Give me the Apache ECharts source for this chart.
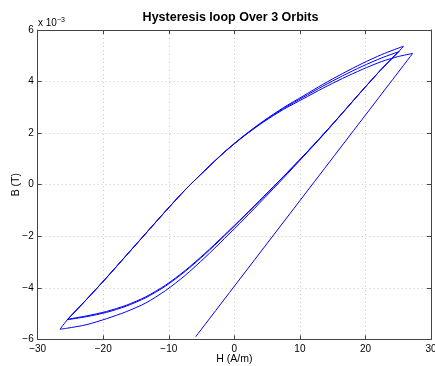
<!DOCTYPE html>
<html>
<head>
<meta charset="utf-8">
<script src="https://cdn.jsdelivr.net/npm/echarts@6/dist/echarts.min.js"></script>
<style>html,body{margin:0;padding:0;background:#fff;}#c{width:435px;height:366px;}</style>
</head>
<body>
<div id="c"></div>
<script>
// B values in units of 1e-3 T
var initH = [-5.9, 27.2];
var initB = [-5.9, 5.09];
var desc1H = [27.2,25,22.5,19.5,16.5,13.5,10.5,7.5,4.5,1.5,-1.5,-4.5,-7.5,-10.5,-13.5,-16.5,-19.5,-22.5,-25.5,-26.6];
var desc1B = [5.09,4.97,4.78,4.47,4.12,3.74,3.33,2.92,2.44,1.89,1.26,0.55,-0.2,-1.03,-1.89,-2.75,-3.61,-4.44,-5.25,-5.61];
var asc1H = [-26.6,-25.5,-22.5,-19.5,-16.5,-13.5,-10.5,-7.5,-4.5,-1.5,1.5,4.5,7.5,10.5,13.5,16.5,19.5,22.5,25.1,25.8];
var asc1B = [-5.61,-5.57,-5.43,-5.2,-4.93,-4.59,-4.11,-3.52,-2.83,-2.09,-1.33,-0.54,0.26,1.08,1.91,2.775,3.65,4.495,5.17,5.37];
var desc2H = [25.8,22.5,19.5,16.5,13.5,10.5,7.5,4.5,1.5,-1.5,-4.5,-7.5,-10.5,-13.5,-16.5,-19.5,-22.5,-25.5];
var desc2B = [5.37,5.05,4.70,4.31,3.89,3.44,2.99,2.48,1.91,1.27,0.55,-0.2,-1.03,-1.89,-2.75,-3.61,-4.44,-5.24];
var asc2H = [-25.5,-22.5,-19.5,-16.5,-13.5,-10.5,-7.5,-4.5,-1.5,1.5,4.5,7.5,10.5,13.5,16.5,19.5,22.5,25.1];
var asc2B = [-5.24,-5.12,-4.955,-4.715,-4.385,-3.935,-3.365,-2.705,-1.985,-1.235,-0.47,0.31,1.105,1.93,2.785,3.655,4.495,5.17];
var desc3H = [25.1,22.5,19.5,16.5,13.5,10.5,7.5,4.5,1.5,-1.5,-4.5,-7.5,-10.5,-13.5,-16.5,-19.5,-22.5,-25.4];
var desc3B = [5.16,4.92,4.59,4.22,3.82,3.39,2.955,2.46,1.90,1.27,0.55,-0.2,-1.03,-1.89,-2.75,-3.61,-4.44,-5.22];
var asc3H = [-25.4,-22.5,-19.5,-16.5,-13.5,-10.5,-7.5,-4.5,-1.5,1.5,4.5,7.5,10.5,13.5,16.5,19.5,22.5,25.1];
var asc3B = [-5.22,-5.09,-4.92,-4.68,-4.35,-3.90,-3.33,-2.67,-1.95,-1.21,-0.45,0.32,1.11,1.93,2.785,3.655,4.495,5.17];

var xTicks = [-30,-20,-10,0,10,20,30];
var yTicks = [-6,-4,-2,0,2,4,6];

var branches = [[initH,initB],[desc1H,desc1B],[asc1H,asc1B],[desc2H,desc2B],[asc2H,asc2B],[desc3H,desc3B],[asc3H,asc3B]];
function zip(h,b){var o=[];for(var i=0;i<h.length;i++)o.push([h[i],b[i]]);return o;}
var FONT = 'Liberation Sans, Arial, Helvetica, sans-serif';
function fmt(v){return String(v).replace('-','\u2212');}

var series = branches.map(function(br){
  return {type:'line', data: zip(br[0],br[1]), xAxisIndex:0, yAxisIndex:0,
    showSymbol:false, symbol:'none', smooth:0.25,
    lineStyle:{color:'#0000ff', width:1}, itemStyle:{color:'#0000ff'}, animation:false, silent:true};
});

var axLine = {show:true, onZero:false, lineStyle:{color:'#444', width:1}};
var chart = echarts.init(document.getElementById('c'), null, {renderer:'canvas'});
chart.setOption({
  animation:false,
  backgroundColor:'#fff',
  title:{text:'Hysteresis loop Over 3 Orbits', left:225.5, top:6, textAlign:'center',
    textStyle:{fontFamily:FONT, fontSize:12.5, fontWeight:'bold', color:'#000'}},
  grid:{left:37.7, right:4, top:30, bottom:26.7, containLabel:false, outerBoundsMode:'none'},
  xAxis:[{type:'value', min:xTicks[0], max:xTicks[xTicks.length-1], interval:10, position:'bottom',
      name:'H (A/m)', nameLocation:'middle', nameGap:14.5, nameMoveOverlap:false,
      nameTextStyle:{fontFamily:FONT, fontSize:10.5, color:'#000'},
      axisLine:axLine, axisTick:{show:true, inside:true, length:4, lineStyle:{color:'#444'}},
      axisLabel:{fontFamily:FONT, fontSize:10, color:'#000', margin:5, formatter:fmt},
      splitLine:{show:true, lineStyle:{color:'#c8c8c8', type:[1,3], width:1}}},
    {type:'value', min:xTicks[0], max:xTicks[xTicks.length-1], interval:10, position:'top',
      axisLine:axLine, axisTick:{show:true, inside:true, length:4, lineStyle:{color:'#444'}},
      axisLabel:{show:false}, splitLine:{show:false}}],
  yAxis:[{type:'value', min:yTicks[0], max:yTicks[yTicks.length-1], interval:2, position:'left',
      name:'B (T)', nameLocation:'middle', nameGap:16, nameMoveOverlap:false,
      nameTextStyle:{fontFamily:FONT, fontSize:10.5, color:'#000'},
      axisLine:axLine, axisTick:{show:true, inside:true, length:4, lineStyle:{color:'#444'}},
      axisLabel:{fontFamily:FONT, fontSize:10, color:'#000', margin:4, formatter:fmt},
      splitLine:{show:true, lineStyle:{color:'#c8c8c8', type:[1,3], width:1}}},
    {type:'value', min:yTicks[0], max:yTicks[yTicks.length-1], interval:2, position:'right',
      axisLine:axLine, axisTick:{show:true, inside:true, length:4, lineStyle:{color:'#444'}},
      axisLabel:{show:false}, splitLine:{show:false}}],
  graphic:[{type:'text', left:38, top:17,
    style:{text:'{a|x 10}{b|\u22123}', rich:{a:{fontFamily:FONT, fontSize:10, fill:'#000'}, b:{fontFamily:FONT, fontSize:7, fill:'#000', verticalAlign:'top', padding:[0,0,6,0]}}}}],
  series: series
});
</script>
</body>
</html>
